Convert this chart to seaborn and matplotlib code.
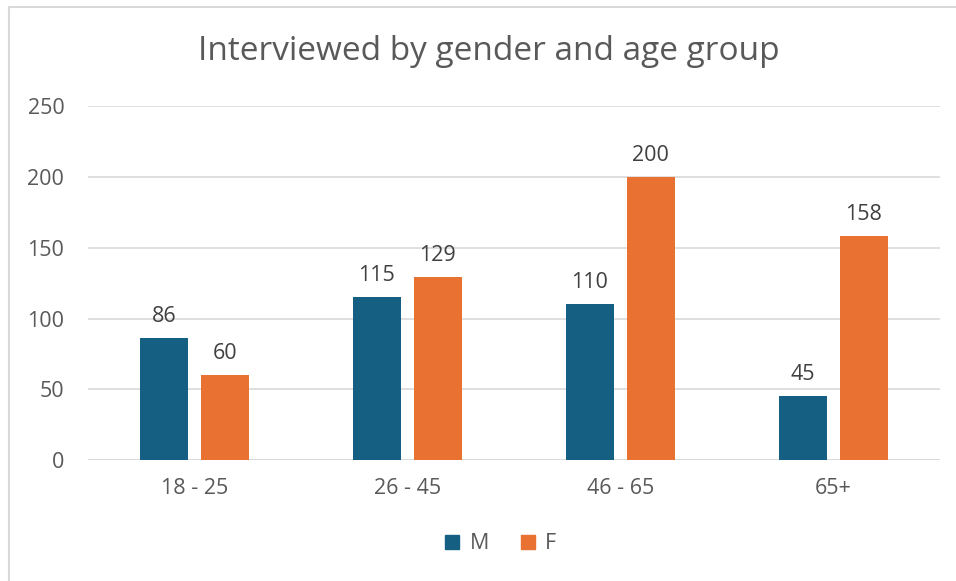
import pandas as pd
import matplotlib
matplotlib.use("Agg")
import matplotlib.pyplot as plt
import seaborn as sns
from matplotlib.lines import Line2D

# Chart values
age_groups = ["18 - 25", "26 - 45", "46 - 65", "65+"]
male = [86, 115, 110, 45]
female = [60, 129, 200, 158]
genders = ["M", "F"]

df = pd.DataFrame({
    "age": age_groups * 2,
    "count": male + female,
    "gender": ["M"] * len(male) + ["F"] * len(female),
})

sns.set_theme(style="white")
plt.rcParams["font.family"] = ["Open Sans", "DejaVu Sans"]
text_color = "#595959"
palette = {"M": "#156082", "F": "#E97132"}

fig = plt.figure(figsize=(9.56, 5.81), dpi=100)
ax = fig.add_axes([0.092, 0.208, 0.891, 0.6095])

sns.barplot(data=df, x="age", y="count", hue="gender", hue_order=genders,
            order=age_groups, palette=palette, width=0.573, gap=0.21,
            saturation=1, linewidth=0, ax=ax, legend=False)

ax.set_ylim(0, 250)
ax.set_yticks(range(0, 251, 50))
ax.yaxis.grid(True, color="#D9D9D9", linewidth=1.2)
ax.set_axisbelow(True)
for s in ax.spines.values():
    s.set_visible(False)
ax.axhline(0, color="#D9D9D9", linewidth=1.2, zorder=0)
ax.set_xlabel("")
ax.set_ylabel("")
ax.tick_params(axis="both", length=0, labelsize=15.5, colors=text_color)
ax.tick_params(axis="y", pad=17)
ax.tick_params(axis="x", pad=13)

for c in ax.containers:
    ax.bar_label(c, padding=8, fontsize=15.5, color="#404040")

fig.text(0.511, 0.912, "Interviewed by gender and age group", ha="center",
         va="center", fontsize=24, color=text_color)

handles = [Line2D([], [], marker="s", linestyle="none", markersize=10,
                  color=palette[g]) for g in genders]
fig.legend(handles, genders, loc="center", bbox_to_anchor=(0.516, 0.064),
           ncol=2, frameon=False, fontsize=15.5, handletextpad=-0.2,
           columnspacing=0.8, labelcolor=text_color)

# chart border (top and left visible in the crop)
fig.add_artist(Line2D([9 / 956, 9 / 956], [0, 1 - 7 / 581],
                      transform=fig.transFigure, color="#D9D9D9", linewidth=1.5))
fig.add_artist(Line2D([9 / 956, 1], [1 - 7 / 581, 1 - 7 / 581],
                      transform=fig.transFigure, color="#D9D9D9", linewidth=1.5))

fig.savefig("out.png", dpi=100)
